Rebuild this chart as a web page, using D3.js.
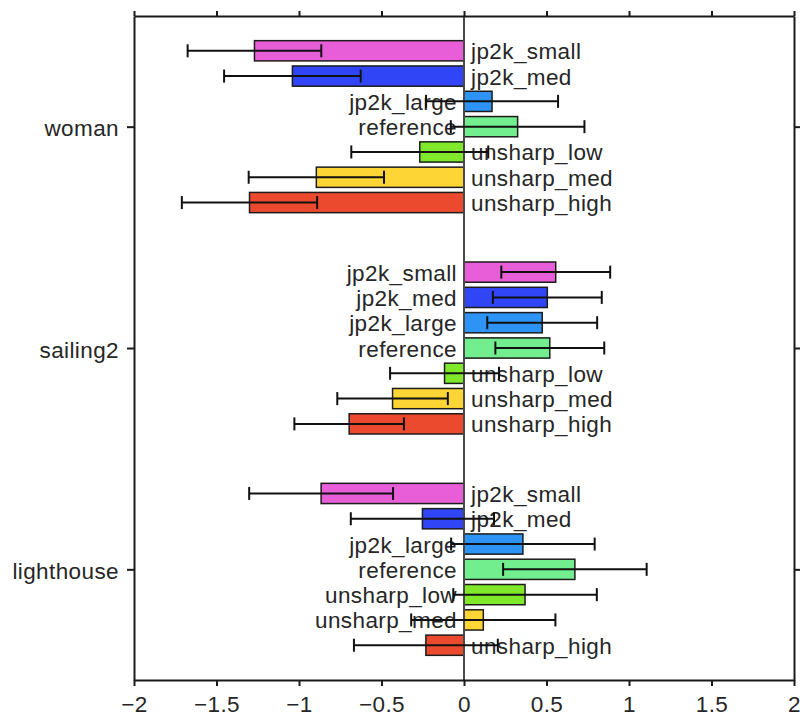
<!DOCTYPE html>
<html>
<head>
<meta charset="utf-8">
<script src="https://cdn.jsdelivr.net/npm/d3@7"></script>
<style>
  html, body { margin: 0; padding: 0; background: #fff; }
  svg text { font-family: "Liberation Sans", Arial, Helvetica, sans-serif; }
</style>
</head>
<body>
<svg id="chart" width="800" height="717"></svg>
<script>
// Test images (one group of bars per image)
const images = ["woman", "sailing2", "lighthouse"];
// Processing variants (one bar per variant inside each group)
const variants = ["jp2k_small", "jp2k_med", "jp2k_large", "reference", "unsharp_low", "unsharp_med", "unsharp_high"];
const variantColors = ["#e85ed9", "#2f45f6", "#2d93f4", "#73ee8f", "#7fe82a", "#fdd535", "#ec4a2e"];

// Mean scores per image, in variant order
const womanMeans      = [-1.27, -1.04, 0.17, 0.325, -0.268, -0.895, -1.30];
const sailing2Means   = [0.556, 0.505, 0.474, 0.52, -0.118, -0.433, -0.696];
const lighthouseMeans = [-0.866, -0.252, 0.357, 0.672, 0.37, 0.117, -0.231];

// Half-widths of the error bars, in variant order
const womanErrors      = [0.405, 0.414, 0.40, 0.405, 0.415, 0.41, 0.41];
const sailing2Errors   = [0.33, 0.33, 0.333, 0.33, 0.33, 0.335, 0.332];
const lighthouseErrors = [0.436, 0.434, 0.435, 0.435, 0.435, 0.437, 0.436];

// Value axis ticks
const xTicks = [-2, -1.5, -1, -0.5, 0, 0.5, 1, 1.5, 2];

(function draw() {
  const meansByImage = [womanMeans, sailing2Means, lighthouseMeans];
  const errorsByImage = [womanErrors, sailing2Errors, lighthouseErrors];

  const rows = [];
  images.forEach((img, gi) => {
    variants.forEach((v, vi) => {
      rows.push({ image: img, group: gi + 1, variant: v, vi,
                  value: meansByImage[gi][vi], err: errorsByImage[gi][vi] });
    });
  });

  const svg = d3.select("#chart");
  const plotLeft = 134, plotRight = 794, plotTop = 16, plotBottom = 680;

  const x = d3.scaleLinear().domain([-2, 2]).range([plotLeft, plotRight]);
  const y = d3.scaleLinear().domain([0.5, 3.5]).range([plotTop, plotBottom]);
  // position of each variant inside a group, in group units
  const inner = d3.scaleBand().domain(variants).range([-0.4, 0.4]);
  const color = d3.scaleOrdinal().domain(variants).range(variantColors);

  const barCenter = d => y(d.group + inner(d.variant) + inner.bandwidth() / 2);
  const barH = (y(inner.bandwidth()) - y(0)) * 0.8;

  const fontSize = 22.5, spacing = "0.4px", textColor = "#262626";

  // bars
  svg.append("g").selectAll("rect").data(rows).join("rect")
    .attr("x", d => Math.min(x(0), x(d.value)))
    .attr("width", d => Math.abs(x(d.value) - x(0)))
    .attr("y", d => barCenter(d) - barH / 2)
    .attr("height", barH)
    .attr("fill", d => color(d.variant))
    .attr("stroke", "#1c1c1c")
    .attr("stroke-width", 1.5);

  // zero line
  svg.append("line")
    .attr("x1", x(0)).attr("x2", x(0))
    .attr("y1", plotTop).attr("y2", plotBottom)
    .attr("stroke", "#4a4a4a").attr("stroke-width", 2);

  // variant labels on the side of zero opposite the bar
  svg.append("g").selectAll("text").data(rows).join("text")
    .attr("x", d => d.value < 0 ? x(0) + 7 : x(0) - 7)
    .attr("y", d => barCenter(d) + 8.5)
    .attr("text-anchor", d => d.value < 0 ? "start" : "end")
    .attr("font-size", fontSize)
    .attr("letter-spacing", spacing)
    .attr("fill", textColor)
    .text(d => d.variant);

  // error bars
  const capH = 13;
  const eb = svg.append("g").attr("stroke", "#111").attr("stroke-width", 2);
  eb.selectAll("line.h").data(rows).join("line").attr("class", "h")
    .attr("x1", d => x(d.value - d.err)).attr("x2", d => x(d.value + d.err))
    .attr("y1", barCenter).attr("y2", barCenter);
  eb.selectAll("line.l").data(rows).join("line").attr("class", "l")
    .attr("x1", d => x(d.value - d.err)).attr("x2", d => x(d.value - d.err))
    .attr("y1", d => barCenter(d) - capH / 2).attr("y2", d => barCenter(d) + capH / 2);
  eb.selectAll("line.r").data(rows).join("line").attr("class", "r")
    .attr("x1", d => x(d.value + d.err)).attr("x2", d => x(d.value + d.err))
    .attr("y1", d => barCenter(d) - capH / 2).attr("y2", d => barCenter(d) + capH / 2);

  // axes
  const fmt = d3.format("");
  const bottomAxis = svg.append("g").attr("transform", `translate(0,${plotBottom})`)
    .call(d3.axisBottom(x).tickValues(xTicks).tickFormat(fmt).tickSize(6).tickSizeOuter(0).tickPadding(10));
  const topAxis = svg.append("g").attr("transform", `translate(0,${plotTop})`)
    .call(d3.axisTop(x).tickValues(xTicks).tickFormat("").tickSize(5).tickSizeOuter(0));
  const leftAxis = svg.append("g").attr("transform", `translate(${plotLeft},0)`)
    .call(d3.axisLeft(y).tickValues([1, 2, 3]).tickFormat(i => images[i - 1]).tickSize(7).tickSizeOuter(0).tickPadding(8));
  const rightAxis = svg.append("g").attr("transform", `translate(${plotRight},0)`)
    .call(d3.axisRight(y).tickValues([1, 2, 3]).tickFormat("").tickSize(6).tickSizeOuter(0));

  [bottomAxis, topAxis, leftAxis, rightAxis].forEach(a => {
    a.select(".domain").attr("stroke", "#1a1a1a").attr("stroke-width", 2);
    a.selectAll(".tick line").attr("stroke", "#1a1a1a").attr("stroke-width", 2);
    a.selectAll(".tick text")
      .attr("font-size", fontSize)
      .attr("letter-spacing", spacing)
      .attr("fill", textColor)
      .attr("font-family", null);
  });
  leftAxis.selectAll(".tick text").attr("dy", "0.4em");
})();
</script>
</body>
</html>
